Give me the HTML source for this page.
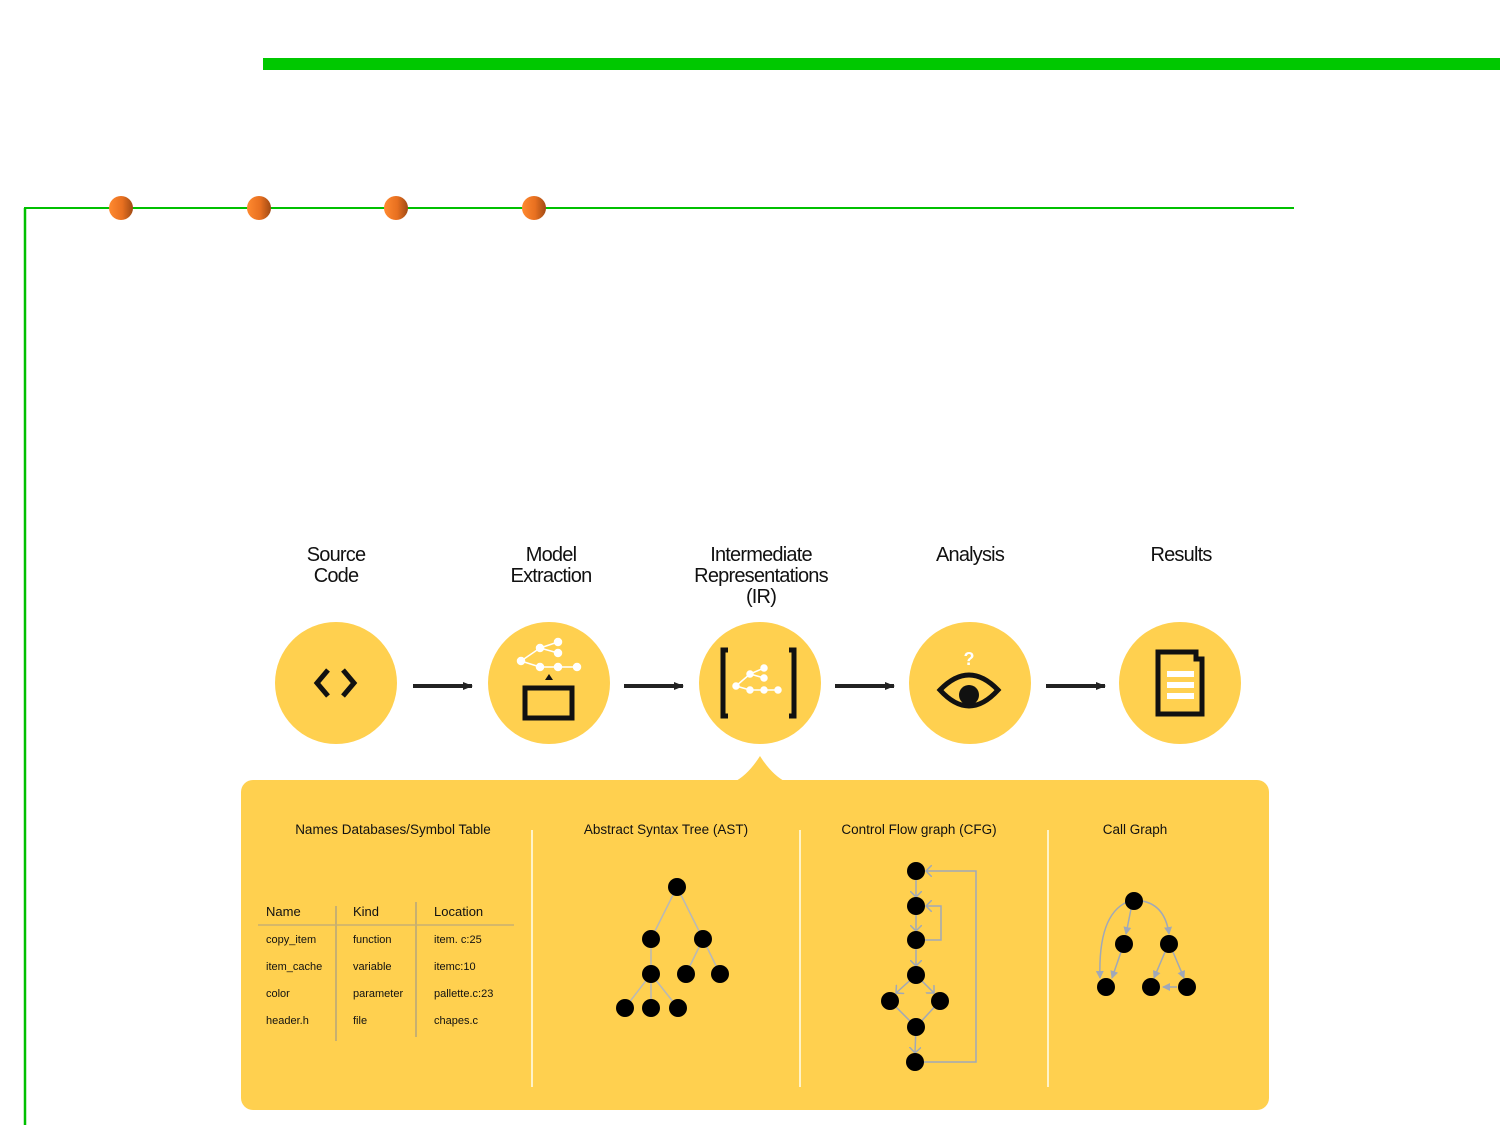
<!DOCTYPE html>
<html><head><meta charset="utf-8"><style>
html,body{margin:0;padding:0;background:#fff;width:1500px;height:1125px;overflow:hidden}
svg{display:block}
text{font-family:"Liberation Sans",sans-serif}
</style></head><body>
<svg width="1500" height="1125" viewBox="0 0 1500 1125" xmlns="http://www.w3.org/2000/svg">
<defs>
<linearGradient id="og" x1="0" x2="1" y1="0" y2="0">
<stop offset="0" stop-color="#ff8a30"/><stop offset="0.55" stop-color="#e87020"/><stop offset="1" stop-color="#a04a14"/>
</linearGradient>
<marker id="ah" markerWidth="10" markerHeight="10" refX="9" refY="5" orient="auto" markerUnits="userSpaceOnUse">
<path d="M0,1 L10,5 L0,9 z" fill="#222"/></marker>
<marker id="gh" markerWidth="8" markerHeight="8" refX="7" refY="4" orient="auto" markerUnits="userSpaceOnUse">
<path d="M0,0 L8,4 L0,8 z" fill="#a0a8b8"/></marker>
<marker id="gv" markerWidth="12" markerHeight="12" refX="6" refY="6" orient="auto" markerUnits="userSpaceOnUse">
<path d="M0,0 L6,6 L0,12" fill="none" stroke="#a0a8b8" stroke-width="1.5"/></marker>
</defs>
<rect x="263" y="58" width="1237" height="12" fill="#00c800"/>
<line x1="24" y1="208" x2="1294" y2="208" stroke="#00c000" stroke-width="2"/>
<line x1="25" y1="208" x2="25" y2="1125" stroke="#00c000" stroke-width="2.5"/>
<g fill="url(#og)"><circle cx="121" cy="208" r="12"/><circle cx="259" cy="208" r="12"/><circle cx="396" cy="208" r="12"/><circle cx="534" cy="208" r="12"/></g>

<g font-size="20" fill="#111" text-anchor="middle" letter-spacing="-0.8">
<text x="336" y="561">Source</text><text x="336" y="582">Code</text>
<text x="551" y="561">Model</text><text x="551" y="582">Extraction</text>
<text x="761" y="561">Intermediate</text><text x="761" y="582">Representations</text><text x="761" y="603">(IR)</text>
<text x="970" y="561">Analysis</text>
<text x="1181" y="561">Results</text>
</g>

<g fill="#ffd04f"><circle cx="336" cy="683" r="61"/><circle cx="549" cy="683" r="61"/><circle cx="760" cy="683" r="61"/><circle cx="970" cy="683" r="61"/><circle cx="1180" cy="683" r="61"/></g>
<g stroke="#222" stroke-width="4" marker-end="url(#ah)">
<line x1="413" y1="686" x2="472" y2="686"/><line x1="624" y1="686" x2="683" y2="686"/><line x1="835" y1="686" x2="894" y2="686"/><line x1="1046" y1="686" x2="1105" y2="686"/>
</g>
<g fill="none" stroke="#111" stroke-width="5"><path d="M328,670 L317,683 L328,696"/><path d="M343,670 L354,683 L343,696"/></g>
<g stroke="#fff" stroke-width="1.5" fill="#fff">
<line x1="521" y1="661" x2="540" y2="648"/><line x1="540" y1="648" x2="558" y2="642"/><line x1="540" y1="648" x2="558" y2="653"/><line x1="521" y1="661" x2="540" y2="667"/><line x1="540" y1="667" x2="577" y2="667"/>
<circle cx="521" cy="661" r="3.5"/><circle cx="540" cy="648" r="3.5"/><circle cx="558" cy="642" r="3.5"/><circle cx="558" cy="653" r="3.5"/><circle cx="540" cy="667" r="3.5"/><circle cx="558" cy="667" r="3.5"/><circle cx="577" cy="667" r="3.5"/>
</g>
<path d="M545,680 L549,674 L553,680z" fill="#111"/>
<rect x="525" y="688" width="47" height="30" fill="none" stroke="#111" stroke-width="5"/>
<g fill="none" stroke="#111" stroke-width="5"><path d="M728,650 L723,650 L723,716 L728,716"/><path d="M789,650 L794,650 L794,716 L789,716"/></g>
<g stroke="#fff" stroke-width="1.5" fill="#fff">
<line x1="736" y1="686" x2="750" y2="674"/><line x1="750" y1="674" x2="764" y2="668"/><line x1="750" y1="674" x2="764" y2="678"/><line x1="736" y1="686" x2="750" y2="690"/><line x1="750" y1="690" x2="778" y2="690"/>
<circle cx="736" cy="686" r="3"/><circle cx="750" cy="674" r="3"/><circle cx="764" cy="668" r="3"/><circle cx="764" cy="678" r="3"/><circle cx="750" cy="690" r="3"/><circle cx="764" cy="690" r="3"/><circle cx="778" cy="690" r="3"/>
</g>
<text x="969" y="665" font-size="18" font-weight="bold" fill="#fff" text-anchor="middle">?</text>
<path d="M940,690 Q969,660 998,690 Q969,722 940,690z" fill="none" stroke="#111" stroke-width="5"/>
<circle cx="969" cy="695" r="10" fill="#111"/>
<path d="M1158,652 L1196,652 L1196,659 L1202,659 L1202,714 L1158,714z" fill="none" stroke="#111" stroke-width="5"/>
<g fill="#fff"><rect x="1167" y="671" width="27" height="6"/><rect x="1167" y="682" width="27" height="6"/><rect x="1167" y="693" width="27" height="6"/></g>

<rect x="241" y="780" width="1028" height="330" rx="12" fill="#ffd04f"/>
<path d="M734,782 Q748,775 760,756 Q772,775 786,782z" fill="#ffd04f"/>
<g stroke="#fff3c8" stroke-width="2"><line x1="532" y1="830" x2="532" y2="1087"/><line x1="800" y1="830" x2="800" y2="1087"/><line x1="1048" y1="830" x2="1048" y2="1087"/></g>
<g font-size="13.5" fill="#111" text-anchor="middle">
<text x="393" y="834">Names Databases/Symbol Table</text>
<text x="666" y="834">Abstract Syntax Tree (AST)</text>
<text x="919" y="834">Control Flow graph (CFG)</text>
<text x="1135" y="834">Call Graph</text>
</g>
<line x1="258" y1="925" x2="514" y2="925" stroke="#c8b070" stroke-width="1.5"/>
<line x1="336" y1="906" x2="336" y2="1041" stroke="#c8b070" stroke-width="2"/>
<line x1="416" y1="902" x2="416" y2="1037" stroke="#c8b070" stroke-width="2"/>
<g font-size="13" fill="#111" font-weight="500"><text x="266" y="916">Name</text><text x="353" y="916">Kind</text><text x="434" y="916">Location</text></g>
<g font-size="11" fill="#111">
<text x="266" y="943">copy_item</text><text x="353" y="943">function</text><text x="434" y="943">item. c:25</text>
<text x="266" y="970">item_cache</text><text x="353" y="970">variable</text><text x="434" y="970">itemc:10</text>
<text x="266" y="997">color</text><text x="353" y="997">parameter</text><text x="434" y="997">pallette.c:23</text>
<text x="266" y="1024">header.h</text><text x="353" y="1024">file</text><text x="434" y="1024">chapes.c</text>
</g>
<g stroke="#b8b8b8" stroke-width="1.5">
<line x1="677" y1="887" x2="651" y2="939"/><line x1="677" y1="887" x2="703" y2="939"/><line x1="651" y1="939" x2="651" y2="974"/>
<line x1="703" y1="939" x2="686" y2="974"/><line x1="703" y1="939" x2="720" y2="974"/>
<line x1="651" y1="974" x2="625" y2="1008"/><line x1="651" y1="974" x2="651" y2="1008"/><line x1="651" y1="974" x2="678" y2="1008"/>
</g>
<g fill="#000"><circle cx="677" cy="887" r="9"/><circle cx="651" cy="939" r="9"/><circle cx="703" cy="939" r="9"/><circle cx="651" cy="974" r="9"/><circle cx="686" cy="974" r="9"/><circle cx="720" cy="974" r="9"/><circle cx="625" cy="1008" r="9"/><circle cx="651" cy="1008" r="9"/><circle cx="678" cy="1008" r="9"/></g>
<g stroke="#a0a8b8" stroke-width="1.5" fill="none">
<line x1="916" y1="871" x2="916" y2="897" marker-end="url(#gv)"/>
<line x1="916" y1="906" x2="916" y2="931" marker-end="url(#gv)"/>
<line x1="916" y1="940" x2="916" y2="966" marker-end="url(#gv)"/>
<line x1="916" y1="975" x2="896" y2="993" marker-end="url(#gv)"/>
<line x1="916" y1="975" x2="934" y2="993" marker-end="url(#gv)"/>
<line x1="890" y1="1001" x2="916" y2="1027"/><line x1="940" y1="1001" x2="916" y2="1027"/>
<line x1="916" y1="1027" x2="915" y2="1053" marker-end="url(#gv)"/>
<polyline points="916,940 941,940 941,906 926,906" marker-end="url(#gv)"/>
<polyline points="915,1062 976,1062 976,871 926,871" marker-end="url(#gv)"/>
</g>
<g fill="#000"><circle cx="916" cy="871" r="9"/><circle cx="916" cy="906" r="9"/><circle cx="916" cy="940" r="9"/><circle cx="916" cy="975" r="9"/><circle cx="890" cy="1001" r="9"/><circle cx="940" cy="1001" r="9"/><circle cx="916" cy="1027" r="9"/><circle cx="915" cy="1062" r="9"/></g>
<g stroke="#a0a8b8" stroke-width="1.5" fill="none">
<path d="M1127,902 Q1098,915 1100,978" marker-end="url(#gh)"/>
<line x1="1131" y1="909" x2="1126" y2="934" marker-end="url(#gh)"/>
<path d="M1142,901 Q1165,905 1169,934" marker-end="url(#gh)"/>
<line x1="1121" y1="952" x2="1112" y2="978" marker-end="url(#gh)"/>
<line x1="1165" y1="952" x2="1154" y2="978" marker-end="url(#gh)"/>
<line x1="1173" y1="952" x2="1184" y2="978" marker-end="url(#gh)"/>
<line x1="1177" y1="987" x2="1163" y2="987" marker-end="url(#gh)"/>
</g>
<g fill="#000"><circle cx="1134" cy="901" r="9"/><circle cx="1124" cy="944" r="9"/><circle cx="1169" cy="944" r="9"/><circle cx="1106" cy="987" r="9"/><circle cx="1151" cy="987" r="9"/><circle cx="1187" cy="987" r="9"/></g>
</svg>
</body></html>
